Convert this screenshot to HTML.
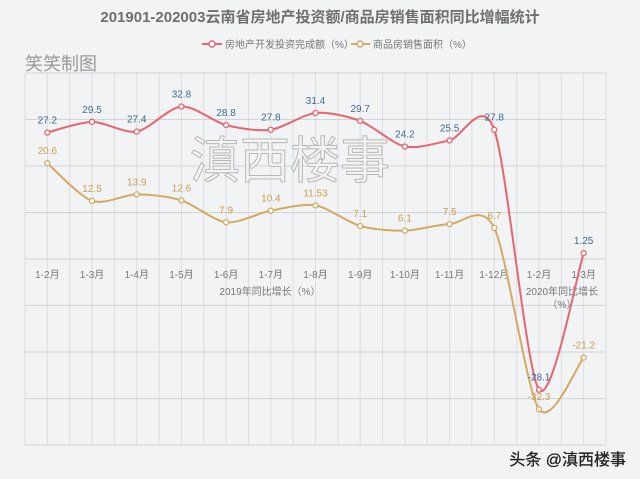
<!DOCTYPE html>
<html><head><meta charset="utf-8"><style>
body{margin:0;background:#f2f3f5;}
svg{display:block;font-family:"Liberation Sans","Noto Sans CJK SC",sans-serif;}
</style></head><body>
<svg id="c" width="640" height="479" viewBox="0 0 640 479">
<rect width="640" height="479" fill="#f2f3f5"/>
<text x="320" y="22" text-anchor="middle" font-size="15" font-weight="bold" fill="#6e6e6e">201901-202003云南省房地产投资额/商品房销售面积同比增幅统计</text>
<g>
<g>
<line x1="202" y1="44" x2="222" y2="44" stroke="#e8646e" stroke-width="2"/><circle cx="212" cy="44" r="3" fill="#fff" stroke="#e8646e" stroke-width="1.5"/>
<text x="225" y="48" font-size="10" fill="#777">房地产开发投资完成额（%）</text></g>
<g>
<line x1="351" y1="44" x2="370" y2="44" stroke="#d4aa62" stroke-width="2"/><circle cx="360" cy="44" r="3" fill="#fff" stroke="#d4aa62" stroke-width="1.5"/>
<text x="373" y="48" font-size="10" fill="#777">商品房销售面积（%）</text></g>
</g>
<text x="25" y="70" font-size="18" fill="#999">笑笑制图</text>
<g id="grid"></g>
<text x="290" y="178" text-anchor="middle" font-size="50" fill="#f4f4f4" stroke="#b8b8b8" stroke-width="1">滇西楼事</text>
<g id="xl"></g>
<text x="270" y="295" text-anchor="middle" font-size="10" fill="#777">2019年同比增长（%）</text>
<text x="562" y="295" text-anchor="middle" font-size="10" fill="#777">2020年同比增长</text>
<text x="562" y="308" text-anchor="middle" font-size="10" fill="#777">（%）</text>
<g id="series"></g>
<text x="626" y="465" text-anchor="end" font-size="16" fill="#222" stroke="#222" stroke-width="0.3">头条 @滇西楼事</text>
</svg>
<script>
const categories=["1-2月","1-3月","1-4月","1-5月","1-6月","1-7月","1-8月","1-9月","1-10月","1-11月","1-12月","1-2月","1-3月"];
const investment=[27.2,29.5,27.4,32.8,28.8,27.8,31.4,29.7,24.2,25.5,27.8,-28.1,1.25];
const salesArea=[20.6,12.5,13.9,12.6,7.9,10.4,11.53,7.1,6.1,7.5,6.7,-32.3,-21.2];
const investmentLabels=["27.2","29.5","27.4","32.8","28.8","27.8","31.4","29.7","24.2","25.5","27.8","-28.1","1.25"];
const salesLabels=["20.6","12.5","13.9","12.6","7.9","10.4","11.53","7.1","6.1","7.5","6.7","-32.3","-21.2"];
const yTicks=[-40,-30,-20,-10,0,10,20,30,40];
const NS="http://www.w3.org/2000/svg";
const L=25,R=606,T=73,B=445,YMIN=-40,YMAX=40;
const step=(R-L)/13;
const x=i=>L+step*(i+0.5);
const y=v=>B-(v-YMIN)/(YMAX-YMIN)*(B-T);
function mk(t,a,p){const e=document.createElementNS(NS,t);for(const k in a)e.setAttribute(k,a[k]);p.appendChild(e);return e;}
const grid=document.getElementById('grid');
for(let k=0;k<=26;k++){const gx=L+step/2*k;
const ln=mk('line',{x1:gx,y1:T,x2:gx,y2:B,stroke:'#dcdde0','stroke-width':1},grid);

}
yTicks.forEach(t=>{const ln=mk('line',{x1:L,y1:y(t),x2:R,y2:y(t),stroke:'#d2d3d6','stroke-width':1},grid);

});
const xl=document.getElementById('xl');
categories.forEach((c,i)=>{const t=mk('text',{x:x(i),y:y(0)+19,'text-anchor':'middle','font-size':10,fill:'#777'},xl);t.textContent=c;

});
function smooth(pts){let d=`M${pts[0][0]},${pts[0][1]}`;for(let i=0;i<pts.length-1;i++){const p0=pts[i-1]||pts[i],p1=pts[i],p2=pts[i+1],p3=pts[i+2]||p2;const k=0.14;
d+=` C${p1[0]+(p2[0]-p0[0])*k},${p1[1]+(p2[1]-p0[1])*k} ${p2[0]-(p3[0]-p1[0])*k},${p2[1]-(p3[1]-p1[1])*k} ${p2[0]},${p2[1]}`;}return d;}
const sg=document.getElementById('series');
function draw(vals,labels,color,lcolor,name){const g=mk('g',{},sg);


const pts=vals.map((v,i)=>[x(i),y(v)]);
const p=mk('path',{d:smooth(pts),fill:'none',stroke:color,'stroke-width':2},g);


pts.forEach((pt,i)=>{const c=mk('circle',{cx:pt[0],cy:pt[1],r:2.5,fill:'#fff',stroke:color,'stroke-width':1.3},g);


const t=mk('text',{x:pt[0],y:pt[1]-9,'text-anchor':'middle','font-size':10,fill:lcolor},g);t.textContent=labels[i];

});}
draw(salesArea,salesLabels,'#d4aa62','#c9a04e','sales-area-series');
draw(investment,investmentLabels,'#e8646e','#3f6a8c','investment-series');
</script>
</body></html>
